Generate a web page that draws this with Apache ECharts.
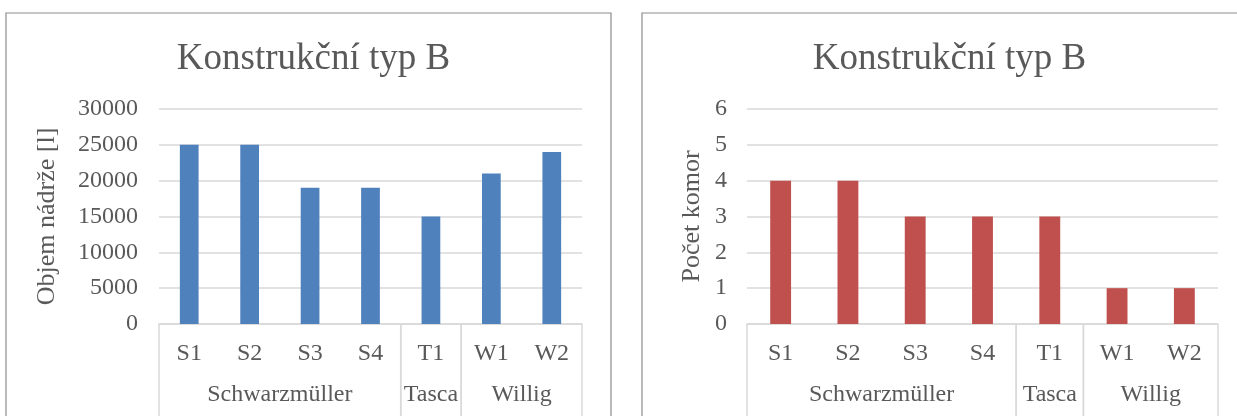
<!DOCTYPE html>
<html>
<head>
<meta charset="utf-8">
<script src="https://cdn.jsdelivr.net/npm/echarts@6/dist/echarts.min.js"></script>
<style>
  html, body { margin: 0; padding: 0; background: #ffffff; }
  #chart { width: 1237px; height: 416px; }
</style>
</head>
<body>
<div id="chart"></div>
<script>
// Tank types of construction type B, by manufacturer
const titleText = 'Konstrukční typ B';
const categories = ['S1', 'S2', 'S3', 'S4', 'T1', 'W1', 'W2'];
const groupNames = ['Schwarzmüller', 'Tasca', 'Willig'];
const groupSizes = [4, 1, 2];
const volumeValues = [25000, 25000, 19000, 19000, 15000, 21000, 24000];
const chamberValues = [4, 4, 3, 3, 3, 1, 1];
const volumeAxisName = 'Objem nádrže [l]';
const chamberAxisName = 'Počet komor';

const FONT = '"Liberation Serif", "Times New Roman", serif';
const TEXT = '#595959';
const GRID_LINE = '#d9d9d9';
const TICK_SIZE = 24;

// group spans in category-index units: [first index, last index]
const groupData = [];
let startIdx = 0;
groupNames.forEach((name, i) => {
  groupData.push({ name: name, value: [startIdx, startIdx + groupSizes[i] - 1] });
  startIdx += groupSizes[i];
});

// second label row with separators between manufacturers
function groupRenderer(params, api) {
  const s = api.value(0);
  const e = api.value(1);
  const left = api.coord([s - 0.5, 0]);
  const right = api.coord([e + 0.5, 0]);
  const mid = api.coord([(s + e) / 2, 0]);
  const y0 = left[1];
  const lineStyle = { stroke: GRID_LINE, lineWidth: 1.5 };
  return {
    type: 'group',
    children: [
      { type: 'line', shape: { x1: left[0], y1: y0, x2: left[0], y2: y0 + 110 }, style: lineStyle },
      { type: 'line', shape: { x1: right[0], y1: y0, x2: right[0], y2: y0 + 110 }, style: lineStyle },
      {
        type: 'text',
        x: mid[0], y: y0 + 71,
        style: {
          text: groupNames[params.dataIndex],
          fill: TEXT, font: TICK_SIZE + 'px ' + FONT,
          align: 'center', verticalAlign: 'middle'
        }
      }
    ]
  };
}

function categoryAxis(gridIndex) {
  return {
    type: 'category', gridIndex: gridIndex, data: categories,
    axisLine: { lineStyle: { color: GRID_LINE, width: 1.5 } },
    axisTick: { show: false },
    axisLabel: { color: TEXT, fontFamily: FONT, fontSize: TICK_SIZE, margin: 18 }
  };
}

function spanAxis(gridIndex) {
  return { type: 'value', gridIndex: gridIndex, min: -0.5, max: categories.length - 0.5, show: false };
}

function valueAxis(gridIndex, max, interval, name, nameGap, margin) {
  return {
    type: 'value', gridIndex: gridIndex, min: 0, max: max, interval: interval,
    name: name, nameLocation: 'middle', nameGap: nameGap,
    nameTextStyle: { color: TEXT, fontFamily: FONT, fontSize: 26 },
    axisLine: { show: false }, axisTick: { show: false },
    axisLabel: { color: TEXT, fontFamily: FONT, fontSize: TICK_SIZE, margin: margin,
      formatter: (v) => String(v) },
    splitLine: { lineStyle: { color: GRID_LINE, width: 1.5 } }
  };
}

const chart = echarts.init(document.getElementById('chart'), null, { renderer: 'canvas' });
chart.setOption({
  animation: false,
  backgroundColor: '#ffffff',
  title: [
    { text: titleText, left: 308.5, top: 36, textAlign: 'center',
      textStyle: { color: TEXT, fontFamily: FONT, fontSize: 37, fontWeight: 'normal' } },
    { text: titleText, left: 944.5, top: 36, textAlign: 'center',
      textStyle: { color: TEXT, fontFamily: FONT, fontSize: 37, fontWeight: 'normal' } }
  ],
  graphic: [
    { type: 'rect', shape: { x: 6, y: 13, width: 605, height: 420 },
      style: { fill: null, stroke: '#8c8c8c', lineWidth: 1.2 }, z: 0 },
    { type: 'rect', shape: { x: 642, y: 13, width: 605, height: 420 },
      style: { fill: null, stroke: '#8c8c8c', lineWidth: 1.2 }, z: 0 }
  ],
  grid: [
    { left: 159, right: 1237 - 582, top: 109, bottom: 416 - 324 },
    { left: 747, right: 1237 - 1218, top: 109, bottom: 416 - 324 }
  ],
  xAxis: [categoryAxis(0), spanAxis(0), categoryAxis(1), spanAxis(1)],
  yAxis: [
    valueAxis(0, 30000, 5000, volumeAxisName, 99, 21),
    valueAxis(1, 6, 1, chamberAxisName, 42, 20)
  ],
  series: [
    { type: 'bar', xAxisIndex: 0, yAxisIndex: 0, data: volumeValues,
      barWidth: '31%', itemStyle: { color: '#4f81bd' }, silent: true },
    { type: 'bar', xAxisIndex: 2, yAxisIndex: 1, data: chamberValues,
      barWidth: '31%', itemStyle: { color: '#c0504d' }, silent: true },
    { type: 'custom', xAxisIndex: 1, yAxisIndex: 0, data: groupData,
      encode: { x: [0, 1] }, renderItem: groupRenderer, clip: false, silent: true, z: 5 },
    { type: 'custom', xAxisIndex: 3, yAxisIndex: 1, data: groupData,
      encode: { x: [0, 1] }, renderItem: groupRenderer, clip: false, silent: true, z: 5 }
  ]
});
</script>
</body>
</html>
